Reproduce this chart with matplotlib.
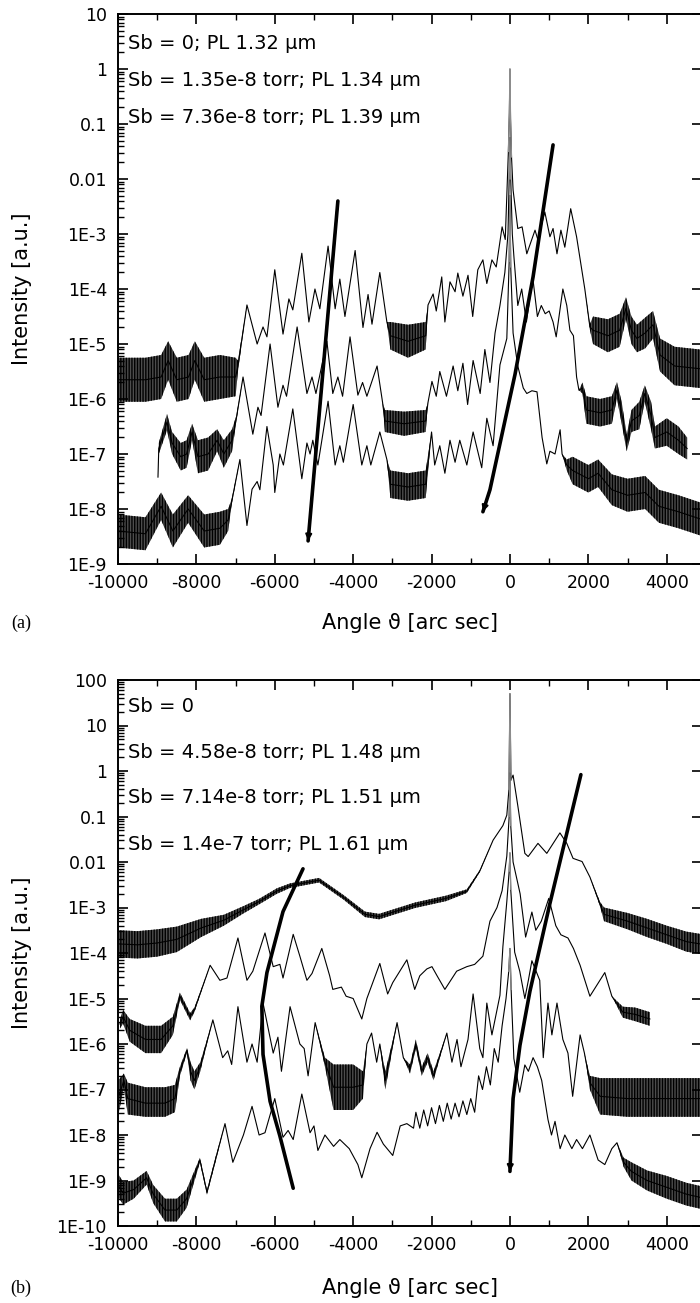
import numpy as np
import matplotlib
matplotlib.use("Agg")
import matplotlib.pyplot as plt
from matplotlib.ticker import FixedLocator, LogLocator, NullFormatter

plt.rcParams['font.family'] = ['DejaVu Sans']
plt.rcParams['axes.unicode_minus'] = False
plt.rcParams['hatch.linewidth'] = 1.0
plt.rcParams['hatch.color'] = 'k'

# Data: (angle [arc sec], log10 intensity, noise half-width [decades])

# panel (a)
A1 = [(-10000, -5.65, 0.4), (-9300, -5.65, 0.4), (-8900, -5.6, 0.4), (-8720, -5.3, 0.35),
      (-8500, -5.65, 0.4), (-8200, -5.6, 0.4), (-8040, -5.3, 0.35), (-7800, -5.65, 0.4),
      (-7400, -5.6, 0.4), (-7000, -5.6, 0.35), (-6940, -5.4, 0.1), (-6710, -4.29, 0),
      (-6450, -5.0, 0), (-6300, -4.69, 0), (-6200, -4.87, 0), (-6000, -3.65, 0),
      (-5790, -4.82, 0), (-5640, -4.18, 0), (-5540, -4.38, 0), (-5310, -3.35, 0),
      (-5130, -4.6, 0), (-4975, -4.0, 0), (-4850, -4.36, 0), (-4640, -3.22, 0),
      (-4460, -4.36, 0), (-4340, -3.82, 0), (-4210, -4.5, 0), (-3950, -3.3, 0),
      (-3750, -4.7, 0), (-3620, -4.1, 0), (-3520, -4.64, 0), (-3320, -3.7, 0),
      (-3140, -4.6, 0), (-3050, -4.85, 0.25), (-2600, -4.95, 0.3), (-2150, -4.85, 0.25),
      (-2090, -4.29, 0), (-1960, -4.09, 0), (-1880, -4.4, 0), (-1740, -3.78, 0),
      (-1660, -4.6, 0), (-1530, -3.87, 0), (-1400, -4.05, 0), (-1330, -3.71, 0),
      (-1200, -4.13, 0), (-1070, -3.75, 0), (-950, -4.5, 0), (-820, -3.65, 0),
      (-690, -3.47, 0), (-590, -3.9, 0), (-460, -3.47, 0), (-350, -3.6, 0),
      (-200, -2.87, 0), (-120, -3.1, 0), (-80, -2.3, 0), (-40, -1.5, 0), (-15, -0.8, 0),
      (0, 0.0, 0), (15, -0.9, 0), (40, -1.6, 0), (80, -2.2, 0), (200, -2.9, 0),
      (310, -2.87, 0), (430, -3.36, 0), (640, -2.93, 0), (710, -3.1, 0), (890, -2.6, 0),
      (1020, -3.05, 0), (1100, -2.9, 0), (1200, -3.36, 0), (1300, -2.93, 0),
      (1400, -3.24, 0), (1550, -2.54, 0), (1700, -3.05, 0), (1910, -4.0, 0),
      (2040, -4.69, 0.05), (2120, -4.75, 0.25), (2500, -4.85, 0.3), (2800, -4.75, 0.3),
      (2960, -4.35, 0.2), (3100, -4.75, 0.25), (3240, -4.9, 0.25), (3450, -4.8, 0.28),
      (3650, -4.65, 0.25), (3830, -5.2, 0.3), (4200, -5.4, 0.35), (4850, -5.45, 0.35)]

A2 = [(-8980, -7.42, 0), (-8960, -6.9, 0.1), (-8750, -6.42, 0.15), (-8620, -6.8, 0.2),
      (-8400, -7.05, 0.25), (-8250, -7.0, 0.25), (-8110, -6.6, 0.15), (-7960, -7.05, 0.3),
      (-7700, -7.0, 0.3), (-7470, -6.75, 0.2), (-7300, -7.0, 0.25), (-7090, -6.75, 0.2),
      (-6980, -6.35, 0.05), (-6810, -5.6, 0), (-6560, -6.64, 0), (-6430, -6.15, 0),
      (-6350, -6.3, 0), (-6120, -5.0, 0), (-5920, -6.15, 0), (-5790, -5.75, 0),
      (-5700, -5.95, 0), (-5430, -4.69, 0), (-5180, -5.9, 0), (-5050, -5.6, 0),
      (-4950, -5.9, 0), (-4670, -4.95, 0), (-4520, -5.9, 0), (-4390, -5.6, 0),
      (-4270, -5.95, 0), (-4080, -4.87, 0), (-3880, -5.93, 0), (-3760, -5.7, 0),
      (-3650, -5.95, 0), (-3390, -5.4, 0), (-3250, -6.06, 0), (-3190, -6.4, 0.2),
      (-2700, -6.45, 0.22), (-2150, -6.4, 0.2), (-2090, -6.06, 0), (-1990, -5.68, 0),
      (-1880, -5.95, 0), (-1790, -5.5, 0), (-1620, -5.95, 0), (-1450, -5.4, 0),
      (-1330, -5.85, 0), (-1200, -5.35, 0), (-1080, -6.1, 0), (-940, -5.3, 0),
      (-760, -5.9, 0), (-640, -5.1, 0), (-510, -5.7, 0), (-380, -4.8, 0),
      (-255, -4.3, 0), (-130, -3.7, 0), (-50, -3.0, 0), (-20, -2.0, 0), (0, -1.25, 0),
      (20, -2.0, 0), (60, -3.0, 0), (100, -3.4, 0), (200, -4.3, 0), (300, -4.0, 0),
      (420, -4.6, 0), (520, -4.1, 0), (590, -3.84, 0), (700, -4.5, 0), (800, -4.3, 0),
      (900, -4.45, 0), (1000, -4.4, 0), (1100, -4.6, 0), (1180, -4.87, 0),
      (1350, -4.0, 0), (1450, -4.3, 0), (1530, -4.75, 0), (1620, -4.85, 0),
      (1700, -5.6, 0), (1760, -5.84, 0), (1850, -5.8, 0.1), (1950, -6.2, 0.25),
      (2300, -6.25, 0.25), (2600, -6.2, 0.25), (2730, -5.84, 0.15), (2850, -6.25, 0.2),
      (2980, -6.8, 0.15), (3100, -6.4, 0.2), (3300, -6.3, 0.25), (3440, -5.9, 0.15),
      (3600, -6.3, 0.25), (3700, -6.7, 0.2), (4000, -6.6, 0.25), (4300, -6.75, 0.25),
      (4520, -6.9, 0.2)]

A3 = [(-10000, -8.4, 0.3), (-9300, -8.45, 0.3), (-8900, -7.95, 0.25), (-8600, -8.4, 0.3),
      (-8210, -8.0, 0.25), (-7800, -8.4, 0.3), (-7400, -8.35, 0.3), (-7190, -8.2, 0.2),
      (-7100, -7.87, 0.05), (-6890, -7.1, 0), (-6710, -8.3, 0), (-6580, -7.64, 0),
      (-6450, -7.5, 0), (-6380, -7.65, 0), (-6200, -6.5, 0), (-6040, -7.2, 0),
      (-6000, -7.7, 0), (-5870, -7.0, 0), (-5780, -7.2, 0), (-5540, -6.18, 0),
      (-5310, -7.45, 0), (-5180, -6.8, 0), (-5100, -7.0, 0), (-5030, -6.75, 0),
      (-4900, -7.2, 0), (-4640, -6.04, 0), (-4460, -7.2, 0), (-4340, -6.85, 0),
      (-4250, -7.15, 0), (-4000, -6.1, 0), (-3780, -7.2, 0), (-3650, -6.85, 0),
      (-3550, -7.2, 0), (-3320, -6.6, 0), (-3140, -7.1, 0), (-3050, -7.55, 0.25),
      (-2600, -7.6, 0.25), (-2150, -7.55, 0.25), (-2000, -6.6, 0), (-1920, -7.2, 0),
      (-1790, -6.85, 0), (-1660, -7.35, 0), (-1530, -6.75, 0), (-1400, -7.15, 0),
      (-1280, -6.75, 0), (-1100, -7.2, 0), (-940, -6.6, 0), (-720, -7.25, 0),
      (-590, -6.35, 0), (-430, -6.85, 0), (-255, -5.38, 0), (-80, -4.9, 0),
      (-20, -3.5, 0), (0, -2.3, 0), (20, -3.6, 0), (80, -4.8, 0), (200, -5.4, 0),
      (340, -5.8, 0), (430, -5.9, 0), (560, -5.85, 0), (690, -5.87, 0), (820, -6.7, 0),
      (940, -7.18, 0), (1020, -6.95, 0), (1150, -7.0, 0), (1280, -6.56, 0),
      (1330, -7.0, 0), (1450, -7.2, 0.1), (1600, -7.3, 0.25), (2000, -7.45, 0.25),
      (2250, -7.35, 0.25), (2600, -7.65, 0.28), (3000, -7.75, 0.3), (3450, -7.7, 0.3),
      (3800, -7.95, 0.3), (4300, -8.05, 0.3), (4850, -8.18, 0.3)]

# panel (b)
B1 = [(-10000, -3.8, 0.3), (-9500, -3.82, 0.3), (-9000, -3.78, 0.3), (-8500, -3.7, 0.28),
      (-7880, -3.45, 0.2), (-7300, -3.28, 0.12), (-6800, -3.05, 0.08), (-6400, -2.87, 0.06),
      (-5950, -2.64, 0.06), (-5610, -2.52, 0.05), (-4870, -2.4, 0.05), (-4240, -2.78, 0.05),
      (-3700, -3.15, 0.06), (-3340, -3.2, 0.06), (-2420, -2.95, 0.06), (-1630, -2.8, 0.06),
      (-1100, -2.64, 0.04), (-770, -2.2, 0.02), (-430, -1.52, 0), (-180, -1.2, 0),
      (-80, -0.97, 0), (-25, -0.4, 0), (0, 1.7, 0), (25, -0.2, 0), (80, -0.09, 0),
      (200, -0.76, 0), (380, -1.81, 0), (465, -1.88, 0), (715, -1.59, 0), (940, -1.81, 0),
      (1275, -1.36, 0), (1450, -1.59, 0), (1610, -1.92, 0), (1840, -1.99, 0),
      (2040, -2.33, 0), (2300, -2.93, 0.05), (2400, -3.15, 0.15), (3000, -3.3, 0.18),
      (3500, -3.45, 0.2), (4000, -3.6, 0.2), (4500, -3.75, 0.22), (4850, -3.8, 0.22)]

B2 = [(-9950, -5.56, 0.1), (-9870, -5.4, 0.15), (-9700, -5.7, 0.25), (-9300, -5.9, 0.3),
      (-8900, -5.9, 0.3), (-8600, -5.6, 0.2), (-8420, -4.95, 0.08), (-8160, -5.4, 0.08),
      (-8050, -5.25, 0.05), (-7650, -4.27, 0), (-7400, -4.6, 0), (-7220, -4.55, 0),
      (-6940, -3.67, 0), (-6710, -4.6, 0), (-6560, -4.4, 0), (-6250, -3.56, 0),
      (-6040, -4.3, 0), (-5870, -4.25, 0), (-5790, -4.55, 0), (-5530, -3.59, 0),
      (-5360, -4.07, 0), (-5180, -4.6, 0), (-5050, -4.45, 0), (-4800, -3.9, 0),
      (-4600, -4.5, 0), (-4520, -4.8, 0), (-4300, -4.75, 0), (-4180, -4.95, 0),
      (-4000, -5.0, 0), (-3780, -5.45, 0), (-3650, -5.0, 0), (-3320, -4.23, 0),
      (-3120, -4.9, 0), (-2990, -4.65, 0), (-2630, -4.15, 0), (-2430, -4.8, 0),
      (-2300, -4.5, 0), (-2120, -4.35, 0), (-1990, -4.3, 0), (-1860, -4.5, 0),
      (-1660, -4.8, 0), (-1360, -4.4, 0), (-1100, -4.3, 0), (-900, -4.25, 0),
      (-690, -4.07, 0), (-510, -3.3, 0), (-330, -3.0, 0), (-200, -2.63, 0),
      (-80, -1.87, 0), (-20, -1.0, 0), (0, -0.05, 0), (20, -1.2, 0), (80, -2.0, 0),
      (260, -2.7, 0), (400, -3.65, 0), (560, -3.1, 0), (660, -3.5, 0), (800, -3.3, 0),
      (990, -2.8, 0), (1170, -3.4, 0), (1300, -3.6, 0), (1480, -3.67, 0),
      (1620, -3.9, 0), (1790, -4.27, 0), (2040, -4.95, 0), (2420, -4.43, 0),
      (2600, -4.95, 0), (2880, -5.3, 0.12), (3200, -5.35, 0.15), (3570, -5.45, 0.15)]

B3_FLOOR = -7.6
B3 = [(-10000, -7.2, 0.4), (-9850, -6.8, 0.15), (-9750, -7.2, 0.35), (-9300, -7.3, 0.35),
      (-8800, -7.3, 0.35), (-8550, -7.2, 0.3), (-8420, -6.6, 0.1), (-8240, -6.14, 0.05),
      (-8150, -6.6, 0.2), (-8050, -6.8, 0.2), (-7900, -6.5, 0.1), (-7580, -5.47, 0),
      (-7330, -6.3, 0), (-7200, -6.15, 0), (-7100, -6.45, 0), (-6940, -5.18, 0),
      (-6710, -6.4, 0), (-6580, -6.0, 0), (-6450, -6.4, 0), (-6300, -5.1, 0),
      (-6040, -6.2, 0), (-5920, -5.85, 0), (-5830, -6.6, 0), (-5610, -5.18, 0),
      (-5360, -6.0, 0), (-5250, -6.1, 0), (-5150, -6.7, 0), (-4970, -5.53, 0),
      (-4720, -6.4, 0.1), (-4500, -6.95, 0.5), (-4000, -6.95, 0.5), (-3750, -6.9, 0.3),
      (-3650, -6.0, 0), (-3530, -5.76, 0), (-3400, -6.4, 0), (-3320, -6.0, 0),
      (-3180, -6.8, 0.2), (-2880, -5.53, 0), (-2720, -6.3, 0), (-2550, -6.55, 0.1),
      (-2400, -6.0, 0.1), (-2250, -6.6, 0.1), (-2100, -6.3, 0.1), (-1950, -6.7, 0.1),
      (-1610, -5.76, 0), (-1480, -6.4, 0), (-1350, -5.9, 0), (-1250, -6.5, 0),
      (-1070, -5.9, 0), (-940, -4.9, 0), (-770, -6.1, 0), (-690, -6.3, 0),
      (-590, -5.1, 0), (-460, -5.8, 0), (-255, -4.93, 0), (-180, -3.86, 0),
      (-80, -2.87, 0), (-20, -2.2, 0), (0, -1.8, 0), (20, -2.6, 0), (120, -3.98, 0),
      (250, -4.4, 0), (380, -5.0, 0), (470, -4.6, 0), (560, -4.17, 0), (760, -4.6, 0),
      (850, -6.3, 0), (970, -5.1, 0), (1070, -5.8, 0), (1200, -5.1, 0), (1350, -5.9, 0),
      (1480, -6.2, 0), (1600, -7.15, 0), (1790, -5.8, 0), (1900, -6.2, 0),
      (2040, -6.85, 0.15), (2300, -7.15, 0.4), (3000, -7.2, 0.45), (3800, -7.2, 0.45),
      (4850, -7.2, 0.45)]

B4 = [(-10000, -9.1, 0.25), (-9870, -9.28, 0.25), (-9600, -9.2, 0.2), (-9270, -8.94, 0.15),
      (-9100, -9.3, 0.2), (-8800, -9.65, 0.25), (-8500, -9.65, 0.25), (-8250, -9.4, 0.2),
      (-7910, -8.55, 0.05), (-7730, -9.26, 0.05), (-7500, -8.5, 0.05), (-7270, -7.75, 0),
      (-7070, -8.6, 0), (-6800, -8.0, 0), (-6580, -7.37, 0), (-6400, -8.0, 0),
      (-6250, -7.95, 0), (-6000, -7.2, 0), (-5790, -8.05, 0), (-5660, -7.9, 0),
      (-5530, -8.1, 0), (-5310, -7.1, 0), (-5100, -7.95, 0), (-5000, -7.8, 0),
      (-4900, -8.34, 0), (-4720, -8.0, 0), (-4500, -8.25, 0), (-4340, -8.1, 0),
      (-4100, -8.3, 0), (-3880, -8.65, 0), (-3780, -8.94, 0), (-3570, -8.3, 0),
      (-3390, -7.94, 0), (-3230, -8.2, 0), (-2990, -8.45, 0), (-2800, -7.8, 0),
      (-2630, -7.75, 0), (-2460, -7.85, 0), (-2400, -7.5, 0), (-2300, -7.85, 0),
      (-2200, -7.45, 0), (-2100, -7.8, 0), (-2000, -7.4, 0), (-1900, -7.75, 0),
      (-1800, -7.35, 0), (-1700, -7.7, 0), (-1600, -7.3, 0), (-1500, -7.65, 0),
      (-1400, -7.3, 0), (-1300, -7.6, 0), (-1200, -7.25, 0), (-1100, -7.55, 0),
      (-1000, -7.2, 0), (-900, -7.5, 0), (-800, -6.7, 0), (-700, -7.0, 0),
      (-600, -6.5, 0), (-500, -6.9, 0), (-400, -6.1, 0), (-300, -6.4, 0),
      (-200, -5.6, 0), (-100, -5.0, 0), (-30, -4.4, 0), (0, -3.9, 0), (30, -4.8, 0),
      (100, -6.32, 0), (250, -7.06, 0), (380, -6.46, 0), (470, -6.6, 0), (590, -6.3, 0),
      (700, -6.5, 0), (810, -6.8, 0), (970, -7.66, 0), (1060, -8.0, 0), (1150, -7.7, 0),
      (1280, -8.3, 0), (1400, -8.0, 0), (1580, -8.3, 0), (1700, -8.1, 0), (1850, -8.3, 0),
      (2040, -8.0, 0), (2250, -8.55, 0), (2420, -8.65, 0), (2600, -8.3, 0),
      (2730, -8.17, 0), (2900, -8.6, 0.1), (3100, -8.8, 0.2), (3500, -9.0, 0.22),
      (4000, -9.15, 0.25), (4500, -9.3, 0.25), (4850, -9.37, 0.25)]

# thick guide lines: (angle, log10 intensity)
A_GUIDE_L = [(-4390, -2.4), (-5150, -8.58)]
A_GUIDE_R = [(1100, -1.38), (590, -3.78), (130, -5.55), (-510, -7.65), (-690, -8.05)]
B_GUIDE_L = [(-5280, -2.15), (-5790, -3.09), (-6200, -4.43), (-6330, -5.17),
             (-6300, -6.23), (-6120, -7.26), (-5870, -8.02), (-5530, -9.17)]
B_GUIDE_R = [(1810, -0.08), (1020, -2.91), (510, -4.84), (255, -6.03), (80, -7.2), (0, -8.8)]

A_LABELS = ["Sb = 0; PL 1.32 µm",
            "Sb = 1.35e-8 torr; PL 1.34 µm",
            "Sb = 7.36e-8 torr; PL 1.39 µm"]
B_LABELS = ["Sb = 0",
            "Sb = 4.58e-8 torr; PL 1.48 µm",
            "Sb = 7.14e-8 torr; PL 1.51 µm",
            "Sb = 1.4e-7 torr; PL 1.61 µm"]

X_TICKS = [-10000, -8000, -6000, -4000, -2000, 0, 2000, 4000]
X_TICK_LABELS = ["-10000", "-8000", "-6000", "-4000", "-2000", "0", "2000", "4000"]
A_YTICKS = [1e-9, 1e-8, 1e-7, 1e-6, 1e-5, 1e-4, 1e-3, 1e-2, 1e-1, 1, 10]
A_YTICK_LABELS = ["1E-9", "1E-8", "1E-7", "1E-6", "1E-5", "1E-4", "1E-3",
                  "0.01", "0.1", "1", "10"]
B_YTICKS = [1e-10] + A_YTICKS + [100]
B_YTICK_LABELS = ["1E-10"] + A_YTICK_LABELS + ["100"]

W, H = 700, 1303


def draw_curve(ax, rows, floor=None):
    x = np.array([r[0] for r in rows], float)
    ly = np.array([r[1] for r in rows], float)
    s = np.array([r[2] for r in rows], float)
    lo = ly - s
    if floor is not None:
        lo = np.maximum(lo, floor)
    # noisy stretches: a dark hatched band between the read envelopes
    ax.fill_between(x, 10**lo, 10**(ly + s), facecolor='0.3', edgecolor='k',
                    hatch='||||||', lw=0)
    ax.plot(x, 10**ly, color='k', lw=0.8)
    # substrate peak drawn grey
    core = np.abs(x) <= 40
    ax.plot(x[core], 10**ly[core], color='0.55', lw=0.9)


def draw_guide(ax, pts, head):
    x = [p[0] for p in pts]
    y = [10**p[1] for p in pts]
    ax.plot(x, y, color='k', lw=2.6, solid_capstyle='round', zorder=5)
    if head:
        ax.annotate('', xy=(x[-1], y[-1]), xytext=(x[-2], y[-2]),
                    arrowprops=dict(arrowstyle='-|>', color='k', lw=1.5,
                                    mutation_scale=9, shrinkA=0, shrinkB=0),
                    zorder=6)


def style_axes(ax, yticks, ylabels, ylim):
    ax.set_yscale('log')
    ax.set_xlim(-10000, 4900)
    ax.set_ylim(*ylim)
    ax.set_xticks(X_TICKS)
    ax.set_xticklabels(X_TICK_LABELS)
    ax.xaxis.set_minor_locator(FixedLocator(list(range(-9000, 5000, 2000))))
    ax.set_yticks(yticks)
    ax.set_yticklabels(ylabels)
    ax.yaxis.set_minor_locator(LogLocator(base=10, subs=np.arange(2, 10), numticks=200))
    ax.yaxis.set_minor_formatter(NullFormatter())
    ax.tick_params(which='both', direction='in', top=True, right=True)
    ax.tick_params(which='major', length=7, width=1.2, labelsize=12.5)
    ax.tick_params(axis='y', which='major', pad=8)
    ax.tick_params(axis='x', which='major', pad=7)
    ax.tick_params(which='minor', length=4, width=1.0)
    ax.tick_params(axis='y', which='minor', right=False)
    for sp in ax.spines.values():
        sp.set_linewidth(1.4)


fig = plt.figure(figsize=(W / 100, H / 100), dpi=100)

ax_a = fig.add_axes([118 / W, 1 - 564 / H, 584 / W, 550 / H])
for rows in (A1, A2, A3):
    draw_curve(ax_a, rows)
draw_guide(ax_a, A_GUIDE_L, True)
draw_guide(ax_a, A_GUIDE_R, True)
style_axes(ax_a, A_YTICKS, A_YTICK_LABELS, (1e-9, 10))
for lab, yf in zip(A_LABELS, [0.947, 0.880, 0.811]):
    ax_a.text(0.017, yf, lab, transform=ax_a.transAxes, va='center', fontsize=14)

ax_b = fig.add_axes([118 / W, 1 - 1226 / H, 584 / W, 546 / H])
draw_curve(ax_b, B1)
draw_curve(ax_b, B2)
draw_curve(ax_b, B3, floor=B3_FLOOR)
draw_curve(ax_b, B4)
draw_guide(ax_b, B_GUIDE_L, False)
draw_guide(ax_b, B_GUIDE_R, True)
style_axes(ax_b, B_YTICKS, B_YTICK_LABELS, (1e-10, 100))
for lab, yf in zip(B_LABELS, [0.951, 0.868, 0.784, 0.698]):
    ax_b.text(0.017, yf, lab, transform=ax_b.transAxes, va='center', fontsize=14)

# axis titles and panel letters
for yc_axis, yc_label, letter in [(289, 623, "(a)"), (953, 1288, "(b)")]:
    fig.text(22 / W, 1 - yc_axis / H, "Intensity [a.u.]", rotation=90,
             ha='center', va='center', fontsize=15)
    fig.text(410 / W, 1 - yc_label / H, "Angle ϑ [arc sec]",
             ha='center', va='center', fontsize=15)
    fig.text(21 / W, 1 - yc_label / H, letter, ha='center', va='center',
             fontsize=13, family=['Liberation Serif', 'DejaVu Serif'])

fig.savefig('out.png', dpi=100)
